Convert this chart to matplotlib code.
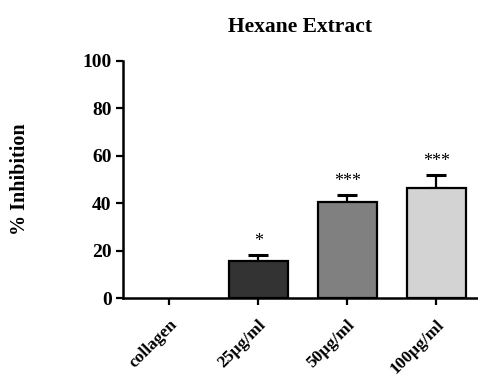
import matplotlib

matplotlib.use("Agg")
import matplotlib.pyplot as plt

# Collagen-induced aggregation, % inhibition by hexane extract
groups = ["collagen", "25µg/ml", "50µg/ml", "100µg/ml"]
inhibition = [0.0, 15.6, 40.3, 46.5]
sem = [0.0, 2.6, 3.1, 5.4]
stars = ["", "*", "***", "***"]
fills = ["white", "#333333", "#808080", "#d3d3d3"]

plt.rcParams["font.family"] = ["Liberation Serif", "DejaVu Serif"]
plt.rcParams["font.weight"] = "bold"

fig = plt.figure(figsize=(4.78, 3.76), dpi=100)
ax = fig.add_axes([0.257, 0.2074, 0.743, 0.631])

x = list(range(len(groups)))
# the control bar has zero height, so no outline is drawn for it
edges = ["none" if v == 0 else "black" for v in inhibition]
ax.bar(x, inhibition, width=0.66, color=fills, edgecolor=edges, linewidth=1.6,
       zorder=2)
ax.errorbar(x[1:], inhibition[1:], yerr=[[0] * 3, sem[1:]], fmt="none",
            ecolor="black", elinewidth=1.6, capsize=7.5, capthick=2.2, zorder=1)
for xi, v, e, s in zip(x, inhibition, sem, stars):
    if s:
        ax.text(xi, v + e + 2.0, s, ha="center", va="bottom", fontsize=13,
                fontweight="normal")

ax.set_xlim(-0.52, 3.47)
ax.set_ylim(0, 100)
ax.set_yticks(range(0, 101, 20))
ax.set_xticks(x)
ax.set_xticklabels(groups, rotation=45, ha="right", va="top",
                   rotation_mode="anchor", fontsize=12.5, fontweight="bold")
ax.tick_params(axis="y", labelsize=14, width=1.6, length=5, pad=3)
ax.tick_params(axis="x", width=1.6, length=5, pad=8.5)
for lab in ax.get_yticklabels():
    lab.set_fontweight("bold")

for side in ("top", "right"):
    ax.spines[side].set_visible(False)
for side in ("left", "bottom"):
    ax.spines[side].set_linewidth(1.8)

ax.set_ylabel("% Inhibition", fontsize=14.5, fontweight="bold", labelpad=38)
ax.set_title("Hexane Extract", fontsize=15.5, fontweight="bold", pad=21)

fig.savefig("out.png", dpi=100)
